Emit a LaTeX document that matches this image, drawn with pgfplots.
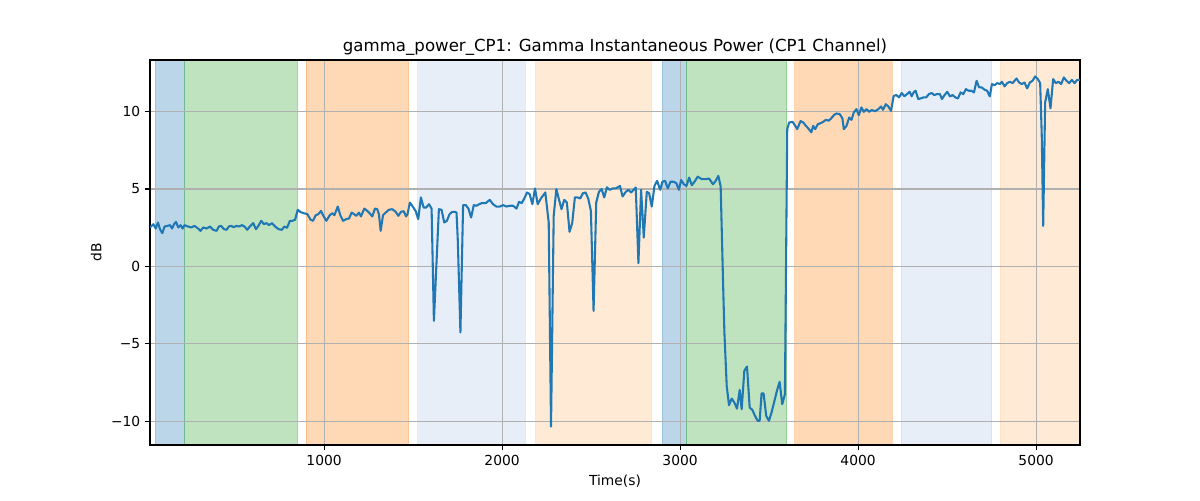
\documentclass[border=0pt]{standalone}
\usepackage{pgfplots}
\pgfplotsset{compat=1.18}
\usepackage{fontspec}
\setmainfont{DejaVu Sans}
\definecolor{tabblue}{HTML}{1F77B4}
\definecolor{tabgreen}{HTML}{2CA02C}
\definecolor{taborange}{HTML}{FF7F0E}
\definecolor{tablightblue}{HTML}{AEC7E8}
\definecolor{tabpeach}{HTML}{FFBB78}
\definecolor{gridgray}{HTML}{B0B0B0}
\pgfplotsset{
  span/.style={fill=#1, fill opacity=0.3, draw=#1, draw opacity=0.3, line width=0.8pt, on layer=axis background, forget plot},
}
\begin{document}
\begin{tikzpicture}
\path (-108.4pt,-39.75pt) rectangle (758.8pt,321.6pt);
\begin{axis}[
  set layers,
  scale only axis,
  width=672.1pt, height=278.2pt,
  xmin=22, xmax=5247, ymin=-11.53, ymax=13.33,
  axis line style={line width=0.8pt},
  tick align=outside, tick pos=left,
  major tick length=3.5pt,
  every tick/.style={black, line width=0.8pt},
  grid=major,
  grid style={gridgray, line width=0.8pt},
  xtick={1000,2000,3000,4000,5000},
  xticklabels={1000,2000,3000,4000,5000},
  ytick={-10,-5,0,5,10},
  yticklabels={−10,−5,0,5,10},
  ticklabel style={font=\fontsize{10}{12}\selectfont},
  /pgf/number format/assume math mode=true,
  xlabel={Time(s)}, ylabel={dB},
  label style={font=\fontsize{10}{12}\selectfont},
  title={gamma\_power\_CP1: Gamma Instantaneous Power (CP1 Channel)},
  title style={font=\fontsize{12}{14}\selectfont, yshift=-6pt},
]
\addplot[span=tabblue] coordinates {(52,-11.53) (52,13.33) (215,13.33) (215,-11.53) (52,-11.53)};
\addplot[span=tabgreen] coordinates {(215,-11.53) (215,13.33) (852,13.33) (852,-11.53) (215,-11.53)};
\addplot[span=taborange] coordinates {(899,-11.53) (899,13.33) (1475,13.33) (1475,-11.53) (899,-11.53)};
\addplot[span=tablightblue] coordinates {(1525,-11.53) (1525,13.33) (2131,13.33) (2131,-11.53) (1525,-11.53)};
\addplot[span=tabpeach] coordinates {(2189,-11.53) (2189,13.33) (2840,13.33) (2840,-11.53) (2189,-11.53)};
\addplot[span=tabblue] coordinates {(2901,-11.53) (2901,13.33) (3034,13.33) (3034,-11.53) (2901,-11.53)};
\addplot[span=tabgreen] coordinates {(3034,-11.53) (3034,13.33) (3600,13.33) (3600,-11.53) (3034,-11.53)};
\addplot[span=taborange] coordinates {(3645,-11.53) (3645,13.33) (4191,13.33) (4191,-11.53) (3645,-11.53)};
\addplot[span=tablightblue] coordinates {(4242,-11.53) (4242,13.33) (4751,13.33) (4751,-11.53) (4242,-11.53)};
\addplot[span=tabpeach] coordinates {(4799,-11.53) (4799,13.33) (5247,13.33) (5247,-11.53) (4799,-11.53)};
\addplot[tabblue, line width=1.5pt, mark=none, line join=round] table {
x y
22 2.52
41 2.73
54 2.45
67 2.84
78 2.41
91 2.15
104 2.58
119 2.62
135 2.67
146 2.45
157 2.73
168 2.88
181 2.52
194 2.67
205 2.45
216 2.67
235 2.58
254 2.52
272 2.62
292 2.45
306 2.30
321 2.52
340 2.45
359 2.58
377 2.37
396 2.30
409 2.58
422 2.62
437 2.41
452 2.37
465 2.58
478 2.62
493 2.54
508 2.62
523 2.58
538 2.67
553 2.58
568 2.37
583 2.58
602 2.80
617 2.41
631 2.62
647 2.95
662 2.73
676 2.80
691 2.67
707 2.80
725 2.58
744 2.41
763 2.37
777 2.58
792 2.50
808 2.95
822 2.95
837 3.01
852 3.66
867 3.52
886 3.44
906 3.38
925 3.01
938 2.95
953 3.31
968 3.38
983 3.59
994 3.31
1013 2.95
1032 3.31
1047 3.44
1058 3.31
1077 3.87
1091 3.31
1107 2.95
1125 3.06
1140 3.10
1155 3.48
1168 3.38
1181 3.27
1196 3.48
1207 3.23
1226 3.74
1243 3.59
1256 3.44
1271 3.23
1286 3.74
1299 3.70
1308 3.38
1318 2.30
1331 3.31
1346 3.48
1364 3.66
1383 3.70
1402 3.53
1417 3.27
1432 3.53
1447 3.57
1461 3.23
1469 3.38
1482 4.13
1495 3.92
1514 3.59
1529 3.06
1544 4.46
1559 3.81
1574 3.81
1589 4.02
1604 3.74
1617 -3.51
1645 3.70
1660 3.66
1675 2.84
1690 2.95
1705 3.38
1720 3.53
1735 3.53
1744 3.48
1751 1.76
1766 -4.26
1781 3.96
1796 3.96
1811 3.74
1826 3.16
1841 3.96
1856 3.92
1871 4.02
1886 4.09
1908 4.09
1931 4.30
1949 4.02
1968 3.87
1987 3.87
2006 3.96
2025 3.87
2043 3.92
2062 3.92
2081 3.74
2095 4.17
2110 4.09
2125 4.39
2140 4.78
2155 4.67
2170 4.02
2185 5.04
2200 4.02
2218 4.39
2243 4.78
2262 2.84
2275 -10.34
2290 3.27
2305 5.00
2319 4.35
2334 3.70
2349 4.30
2364 4.13
2379 2.24
2394 2.80
2409 4.46
2424 4.46
2439 4.39
2454 4.73
2469 4.78
2484 4.39
2499 3.59
2514 -2.87
2529 4.13
2544 4.82
2559 5.00
2574 4.46
2589 5.11
2604 4.95
2622 5.04
2639 5.04
2662 5.20
2677 4.52
2695 4.82
2710 4.95
2725 4.78
2751 5.10
2766 0.21
2781 4.95
2796 1.87
2813 4.82
2826 4.73
2841 3.87
2856 5.20
2871 5.53
2888 4.95
2901 5.47
2916 5.53
2931 5.04
2946 5.47
2964 5.47
2979 5.38
2993 4.95
3006 5.58
3021 5.31
3036 5.20
3051 5.74
3066 5.25
3081 5.47
3099 5.80
3121 5.64
3144 5.64
3163 5.68
3185 5.31
3200 5.53
3215 5.85
3228 5.17
3243 -1.68
3249 -4.26
3262 -7.71
3275 -8.96
3290 -8.53
3305 -8.79
3320 -9.18
3335 -7.97
3346 -9.22
3361 -6.74
3376 -6.46
3391 -9.11
3406 -9.26
3421 -9.65
3436 -9.97
3447 -9.97
3458 -8.19
3469 -8.19
3484 -9.65
3499 -9.97
3514 -9.43
3529 -8.74
3544 -8.03
3559 -7.45
3574 -8.89
3589 -8.25
3602 8.87
3613 9.30
3632 9.34
3647 9.08
3658 8.87
3677 9.39
3692 9.30
3707 9.08
3721 8.91
3737 8.66
3748 9.08
3759 8.87
3774 9.19
3789 9.25
3804 9.34
3819 9.47
3834 9.41
3849 9.56
3864 9.77
3879 9.88
3897 9.84
3912 9.56
3920 8.87
3935 9.08
3950 9.62
3963 9.47
3976 9.95
3991 10.16
4004 9.77
4019 10.27
4032 9.99
4047 10.16
4062 9.99
4077 10.10
4096 10.03
4114 10.16
4129 10.33
4140 10.12
4156 10.48
4170 10.33
4185 10.05
4200 11.02
4215 11.07
4230 10.92
4245 11.20
4260 10.99
4275 11.13
4290 11.28
4301 10.99
4312 11.24
4323 11.35
4338 10.81
4353 10.86
4368 10.92
4383 10.92
4398 11.13
4413 11.20
4428 11.07
4443 11.13
4460 11.13
4471 10.81
4486 11.07
4501 11.28
4516 10.98
4531 11.07
4546 10.92
4561 10.85
4576 11.24
4591 11.13
4606 11.45
4621 11.35
4636 11.35
4651 11.24
4666 11.99
4680 11.56
4695 11.56
4711 11.41
4725 11.35
4740 10.98
4752 11.78
4767 11.71
4782 11.84
4797 11.78
4808 11.93
4823 11.63
4838 11.84
4853 11.93
4868 11.84
4890 12.14
4905 11.88
4920 11.78
4935 11.88
4950 11.50
4965 11.88
4980 11.99
4995 12.27
5010 12.10
5023 11.84
5032 8.44
5040 2.62
5051 10.59
5066 11.45
5081 10.21
5096 12.10
5111 11.84
5126 11.93
5141 11.78
5156 12.21
5171 11.99
5186 11.84
5201 12.05
5216 11.84
5231 12.05
5247 12.05
};
\end{axis}
\end{tikzpicture}
\end{document}
